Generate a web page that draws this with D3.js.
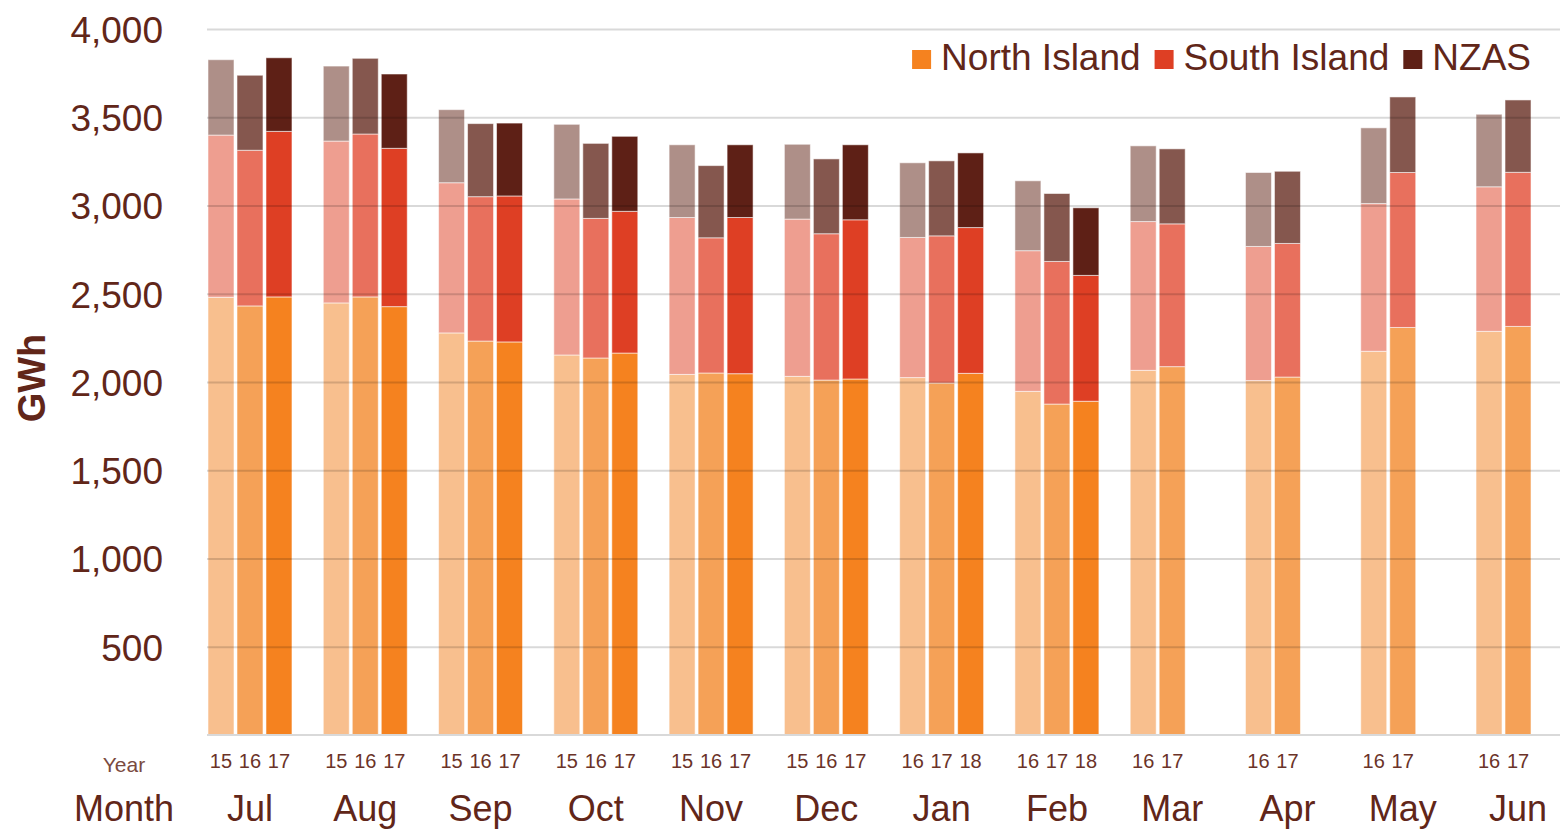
<!DOCTYPE html>
<html>
<head>
<meta charset="utf-8">
<script src="https://cdn.jsdelivr.net/npm/d3@7"></script>
<style>
  body { margin: 0; background: #fff; }
  text { font-family: "Liberation Sans", Arial, sans-serif; }
</style>
</head>
<body>
<script>
var width = 1561;
var height = 829;
var margin = {top: 29, left: 207, right: 1, bottom: 94};

// data (GWh)
var months = ["Jul","Aug","Sep","Oct","Nov","Dec","Jan","Feb","Mar","Apr","May","Jun"];
var yearLabels = [
  ["15","16","17"], ["15","16","17"], ["15","16","17"], ["15","16","17"],
  ["15","16","17"], ["15","16","17"], ["16","17","18"], ["16","17","18"],
  ["16","17"], ["16","17"], ["16","17"], ["16","17"]
];
var northIsland = [
  [2480,2431,2482], [2448,2482,2427], [2278,2232,2227], [2153,2136,2164],
  [2043,2051,2047], [2032,2011,2017], [2025,1994,2049], [1947,1875,1891],
  [2066,2087], [2008,2028], [2174,2309], [2287,2315]
];
var southIsland = [
  [919,882,938], [917,923,897], [851,818,827], [884,791,803],
  [889,766,885], [891,829,902], [794,834,826], [797,808,713],
  [843,809], [760,757], [837,878], [819,873]
];
var nzas = [
  [427,425,417], [425,429,421], [414,414,413], [423,425,425],
  [412,409,412], [424,424,425], [423,425,423], [396,385,383],
  [429,425], [419,409], [429,428], [411,410]
];
var seriesNames = ["North Island","South Island","NZAS"];
var yTicks = [500,1000,1500,2000,2500,3000,3500,4000];

// shades per series: oldest year lightest
var shades = {
  ni: ["#F8BF8E","#F5A157","#F5821F"],
  si: ["#EE9E90","#E8705D","#DE3F24"],
  nz: ["#AE8F88","#85574E","#5E2016"]
};
var textColor = "#612619";

var rows = [];
months.forEach(function(m, i) {
  yearLabels[i].forEach(function(yr, j) {
    rows.push({month: m, slot: j, year: yr, ni: northIsland[i][j], si: southIsland[i][j], nz: nzas[i][j]});
  });
});
var stacked = d3.stack().keys(["ni","si","nz"])(rows);

var svg = d3.select("body")
  .append("svg")
  .attr("width", width)
  .attr("height", height);

var xScale = d3.scaleBand()
  .domain(months)
  .range([margin.left + 1, width - margin.right])
  .paddingInner(0.2715)
  .paddingOuter(0);

var slotScale = d3.scaleBand()
  .domain([0,1,2])
  .range([0, xScale.bandwidth()])
  .paddingInner(0.1034);

var yScale = d3.scaleLinear()
  .domain([0,4000])
  .range([height - margin.bottom, margin.top]);

// bars
svg.append("g")
  .selectAll("g")
  .data(stacked)
  .enter()
  .append("g")
  .selectAll("rect")
  .data(function(s) { return s.map(function(d) { d.key = s.key; return d; }); })
  .enter()
  .append("rect")
    .attr("x", function(d) { return xScale(d.data.month) + slotScale(d.data.slot); })
    .attr("y", function(d) { return yScale(d[1]); })
    .attr("width", slotScale.bandwidth())
    .attr("height", function(d) { return yScale(d[0]) - yScale(d[1]); })
    .attr("fill", function(d) { return shades[d.key][d.data.slot]; })
    .attr("stroke", "#fff")
    .attr("stroke-opacity", 0.55)
    .attr("stroke-width", 1);

// gridlines + y labels (on top of bars, like the original)
var yAxis = svg.append("g")
  .attr("transform", `translate(${margin.left},0)`)
  .call(d3.axisLeft(yScale)
    .tickValues(yTicks)
    .tickFormat(d3.format(","))
    .tickSize(-(width - margin.right - margin.left))
    .tickPadding(44));
yAxis.select(".domain").remove();
yAxis.selectAll(".tick line")
  .attr("stroke", "#000")
  .attr("stroke-opacity", 0.15)
  .attr("stroke-width", 2);
yAxis.selectAll(".tick text")
  .attr("fill", textColor)
  .style("font-size", "37px")
  .attr("dy", "0.36em");

// x axis: baseline and month labels
var xAxis = svg.append("g")
  .attr("transform", `translate(0,${height - margin.bottom})`)
  .call(d3.axisBottom(xScale).tickSize(0).tickPadding(60).tickSizeOuter(0));
xAxis.select(".domain")
  .attr("stroke", "#d9d9d9")
  .attr("stroke-width", 2)
  .attr("d", `M${margin.left},0H${width - margin.right}`);
xAxis.selectAll(".tick text")
  .attr("fill", textColor)
  .style("font-size", "36px");

// year labels under each bar
svg.append("g")
  .selectAll("text")
  .data(rows)
  .enter()
  .append("text")
    .attr("x", function(d) { return xScale(d.month) + slotScale(d.slot) + slotScale.bandwidth() / 2; })
    .attr("y", 768)
    .attr("text-anchor", "middle")
    .attr("fill", "#6b3328")
    .style("font-size", "20px")
    .text(function(d) { return d.year; });

svg.append("text")
  .attr("x", 124).attr("y", 772)
  .attr("text-anchor", "middle")
  .attr("fill", "#7a4a40")
  .style("font-size", "21px")
  .text("Year");

svg.append("text")
  .attr("x", 124).attr("y", 821)
  .attr("text-anchor", "middle")
  .attr("fill", textColor)
  .style("font-size", "36px")
  .text("Month");

svg.append("text")
  .attr("transform", "translate(45,378) rotate(-90)")
  .attr("text-anchor", "middle")
  .attr("fill", textColor)
  .style("font-size", "38px")
  .style("font-weight", "bold")
  .text("GWh");

// legend, right-aligned to the plot
var legendColors = [shades.ni[2], shades.si[2], shades.nz[2]];
var legend = svg.append("g");
var items = legend.selectAll("g")
  .data(seriesNames)
  .enter()
  .append("g");
items.append("rect")
  .attr("width", 19).attr("height", 19)
  .attr("y", 50)
  .attr("fill", function(d, i) { return legendColors[i]; });
items.append("text")
  .attr("x", 29).attr("y", 70)
  .attr("fill", textColor)
  .style("font-size", "37px")
  .text(function(d) { return d; });

var xPos = 1531;
var widths = [];
items.select("text").each(function() { widths.push(this.getComputedTextLength()); });
var offsets = [];
for (var i = seriesNames.length - 1; i >= 0; i--) {
  xPos -= widths[i] + 29;
  offsets[i] = xPos;
  xPos -= 14;
}
items.attr("transform", function(d, i) { return `translate(${offsets[i]},0)`; });
</script>
</body>
</html>
